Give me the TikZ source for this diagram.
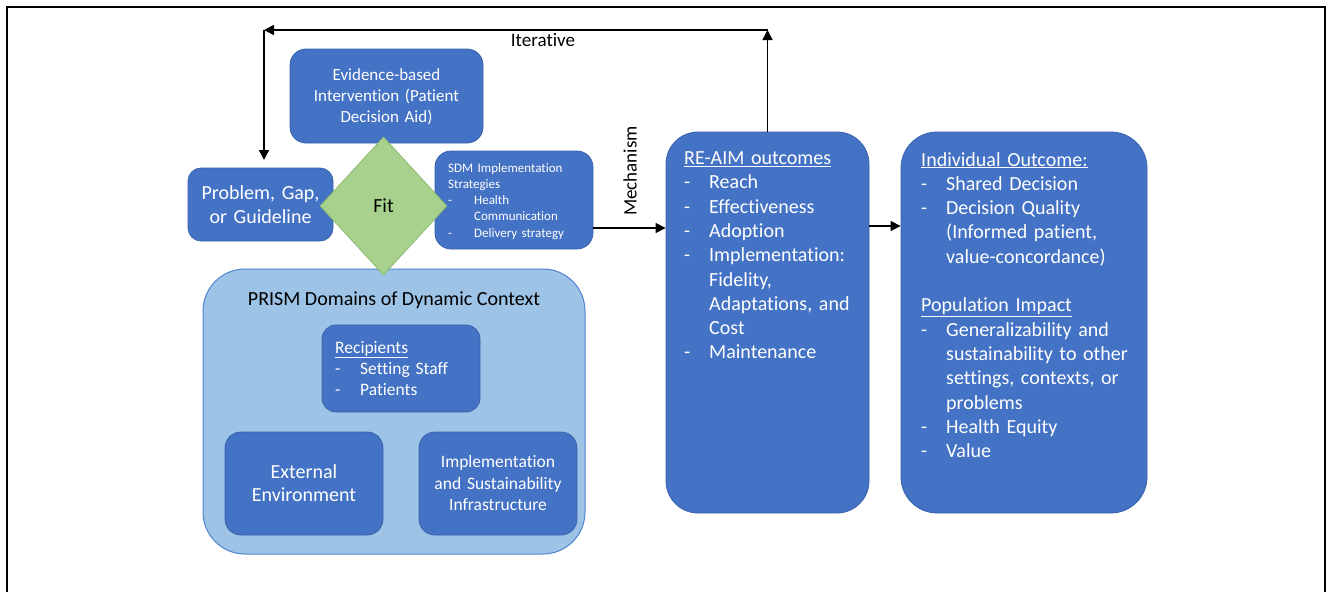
\documentclass[tikz,border=0pt]{standalone}
\usepackage{fontspec}
\setmainfont[Ligatures=NoCommon]{Carlito}
\usetikzlibrary{arrows.meta,shapes.geometric}
\definecolor{boxblue}{HTML}{4472C4}
\definecolor{boxedge}{HTML}{3A63AC}
\definecolor{ctxblue}{HTML}{9DC3E6}
\definecolor{ctxedge}{HTML}{5283CF}
\definecolor{fitgreen}{HTML}{A9D18E}
\definecolor{fitedge}{HTML}{8CBA70}
\newcommand\dli[2][25pt]{\makebox[#1][l]{-}#2}
\newcommand\cli[2][25pt]{\hspace*{#1}#2}
\begin{document}
\begin{tikzpicture}[x=1pt,y=-1pt,
  bluebox/.style={rectangle, fill=boxblue, draw=boxedge, line width=0.8pt, inner sep=0pt},
  ctxbox/.style={rectangle, fill=ctxblue, draw=ctxedge, line width=1pt, inner sep=0pt},
  fitshape/.style={diamond, fill=fitgreen, draw=fitedge, line width=0.8pt, inner sep=0pt,
    minimum width=127pt, minimum height=138pt, font=\fontsize{20}{24}\selectfont},
  wtext/.style={inner sep=0pt, text=white},
  btext/.style={inner sep=0pt, text=black},
  big/.style={font=\fontsize{20}{24.3}\selectfont},
  arr/.style={line width=1.5pt, -{Triangle[length=10pt,width=10pt]}},
  frame/.style={line width=2pt}
]
\useasboundingbox (0,0) rectangle (1330,592);
\draw[frame] (7,592) -- (7,7) -- (1325,7) -- (1325,592);

% boxes
\node[bluebox, rounded corners=16pt, minimum width=193pt, minimum height=94pt] (evid) at (386.5,96) {};
\node[bluebox, rounded corners=13pt, minimum width=145pt, minimum height=73pt] (problem) at (260.5,204.5) {};
\node[bluebox, rounded corners=16pt, minimum width=158pt, minimum height=98pt] (sdm) at (514,200) {};
\node[bluebox, rounded corners=32pt, minimum width=203pt, minimum height=381pt] (reaim) at (767.5,322.5) {};
\node[bluebox, rounded corners=36pt, minimum width=246pt, minimum height=381pt] (indiv) at (1024,322.5) {};
\node[ctxbox, rounded corners=42pt, minimum width=382pt, minimum height=285pt] (prism) at (394,411.5) {};
\node[bluebox, rounded corners=14pt, minimum width=158pt, minimum height=87pt] (recip) at (401,368.5) {};
\node[bluebox, rounded corners=16pt, minimum width=158pt, minimum height=103pt] (extenv) at (304,483.5) {};
\node[bluebox, rounded corners=16pt, minimum width=158pt, minimum height=103pt] (impl) at (498,483.5) {};
\node[fitshape] (fit) at (383.5,206) {Fit};

% texts
\node[wtext, anchor=base, text width=190pt, align=center, font=\fontsize{17}{21}\selectfont] (evidtxt) at (386.5,80.5)
  {Evidence-based\\Intervention (Patient\\Decision Aid)};
\node[wtext, anchor=base, text width=140pt, align=center, font=\fontsize{20}{24}\selectfont] (problemtxt) at (260.5,199)
  {Problem, Gap,\\or Guideline};
\node[wtext, anchor=base west, text width=140pt, align=left, font=\fontsize{13}{16.25}\selectfont] (sdmtxt) at (448,172)
  {SDM Implementation\\Strategies\\\dli[26pt]{Health}\\\cli[26pt]{Communication}\\\dli[26pt]{Delivery strategy}};
\node[wtext, big, anchor=base west, text width=180pt, align=left] (reaimtxt) at (684,164.5)
  {\underline{RE-AIM outcomes}\\\dli{Reach}\\\dli{Effectiveness}\\\dli{Adoption}\\\dli{Implementation:}\\\cli{Fidelity,}\\\cli{Adaptations, and}\\\cli{Cost}\\\dli{Maintenance}};
\node[wtext, big, anchor=base west, text width=215pt, align=left] (indivtxt) at (921,166)
  {\underline{Individual Outcome:}\\\dli{Shared Decision}\\\dli{Decision Quality}\\\cli{(Informed patient,}\\\cli{value-concordance)}\\[24.3pt]\underline{Population Impact}\\\dli{Generalizability and}\\\cli{sustainability to other}\\\cli{settings, contexts, or}\\\cli{problems}\\\dli{Health Equity}\\\dli{Value}};
\node[btext, anchor=base, font=\fontsize{20}{24}\selectfont] (prismtxt) at (394,305.5) {PRISM Domains of Dynamic Context};
\node[wtext, anchor=base west, text width=135pt, align=left, font=\fontsize{17.5}{21.3}\selectfont] (reciptxt) at (335,353)
  {\underline{Recipients}\\\dli{Setting Staff}\\\dli{Patients}};
\node[wtext, anchor=base, text width=150pt, align=center, font=\fontsize{20}{23.3}\selectfont] (extenvtxt) at (304,478)
  {External\\Environment};
\node[wtext, anchor=base, text width=155pt, align=center, font=\fontsize{17.5}{21.7}\selectfont] (impltxt) at (498,467.5)
  {Implementation\\and Sustainability\\Infrastructure};

% labels
\node[btext, font=\fontsize{19}{23}\selectfont, anchor=base] (iterlbl) at (543,46.5) {Iterative};
\node[btext, font=\fontsize{19}{23}\selectfont, rotate=90] (mechlbl) at (630,171) {Mechanism};

% connectors
\coordinate (itR) at (767.5,30);
\coordinate (itL) at (264,30);
\coordinate (itD) at (264,160);
\draw[arr] (reaim.north) -- (itR);
\draw[arr] (itR) -- (itL);
\draw[arr] (itL) -- (itD);
\draw[arr] (sdm.east |- 0,228) -- (reaim.west |- 0,228);
\draw[arr] (reaim.east |- 0,226) -- (indiv.west |- 0,226);
\end{tikzpicture}
\end{document}
